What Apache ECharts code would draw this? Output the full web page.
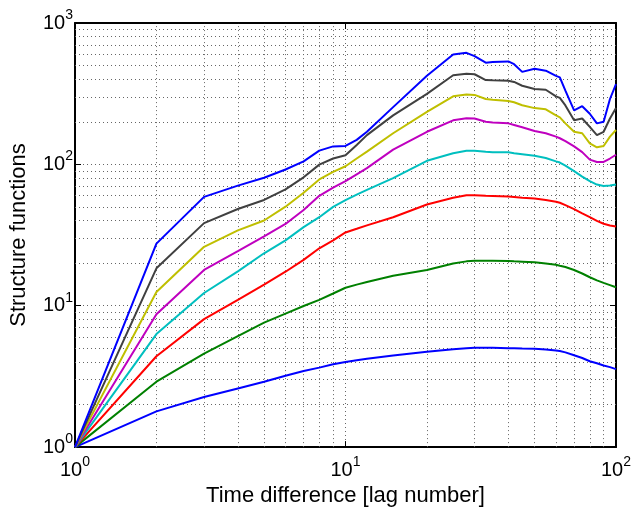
<!DOCTYPE html>
<html>
<head>
<meta charset="utf-8">
<script src="https://cdn.jsdelivr.net/npm/echarts@6/dist/echarts.min.js"></script>
<style>
  html, body { margin: 0; padding: 0; background: #fff; }
  #chart { width: 635px; height: 512px; }
</style>
</head>
<body>
<div id="chart"></div>
<script>
// lag numbers where the curves were read
const lags = [1, 2, 3, 4, 5, 6, 7, 8, 9, 10, 11, 12, 15, 20, 25, 28, 30, 33, 35, 40, 42, 45, 50, 55, 60, 62, 65, 70, 75, 80, 85, 90, 95, 100];

// structure functions, order 1 (bottom) to 8 (top)
const sf1 = [1, 1.79, 2.26, 2.6, 2.9, 3.2, 3.45, 3.65, 3.85, 4.0, 4.12, 4.22, 4.45, 4.72, 4.92, 5.0, 5.04, 5.05, 5.04, 5.0, 5.0, 4.98, 4.96, 4.9, 4.83, 4.78, 4.68, 4.46, 4.27, 4.05, 3.92, 3.78, 3.68, 3.56];
const sf2 = [1, 2.9, 4.58, 6.1, 7.6, 8.8, 9.95, 11.0, 12.2, 13.4, 14.1, 14.7, 16.3, 17.9, 19.9, 20.6, 20.8, 20.8, 20.8, 20.7, 20.6, 20.5, 20.3, 19.9, 19.5, 19.2, 18.8, 17.9, 16.9, 15.9, 15.1, 14.5, 14.0, 13.5];
const sf3 = [1, 4.39, 8.04, 11.0, 14.1, 17.4, 21.1, 25.5, 29, 33, 35, 37, 42.3, 52, 58, 60.5, 60.5, 60, 59.8, 59.2, 58.8, 58, 57.3, 56, 54.4, 53.5, 51.5, 48.3, 45, 42.3, 39.8, 38, 37, 36.4];
const sf4 = [1, 6.3, 12.3, 17.5, 23.5, 29, 36, 42.3, 50, 55.8, 61, 66, 80, 106, 120, 125, 125, 123, 122, 122, 120, 118, 115, 111, 105, 103, 98, 89.5, 82, 76.2, 72, 70.3, 71, 72];
const sf5 = [1, 8.71, 17.9, 24.3, 31, 37.9, 47.5, 59.9, 68.4, 76, 85, 94, 127, 170, 205, 212, 211, 200, 198, 195, 190, 183, 172, 166, 157, 153, 146, 134, 122, 108, 104, 104, 110, 117];
const sf6 = [1, 12.5, 26.1, 34.1, 40.1, 50.2, 63, 78.2, 88.5, 97, 110, 123, 166, 235, 303, 312, 310, 290, 286, 281, 275, 262, 250, 245, 222, 215, 195, 170, 166, 141, 132, 135, 157, 175];
const sf7 = [1, 18.4, 38.4, 48.3, 56, 66.6, 81, 99.6, 110, 116, 137, 161, 222, 315, 427, 438, 434, 395, 393, 390, 383, 360, 341, 337, 303, 295, 261, 205, 211, 184, 161, 170, 211, 250];
const sf8 = [1, 27.5, 58.9, 70.7, 80.4, 92, 105, 125, 134, 135, 149, 170, 254, 423, 598, 615, 583, 524, 529, 535, 511, 451, 475, 460, 423, 412, 332, 241, 258, 228, 195, 200, 290, 370];

const curves = [sf1, sf2, sf3, sf4, sf5, sf6, sf7, sf8];
const colors = ['#0000ff', '#008000', '#ff0000', '#00bfbf', '#bf00bf', '#bfbf00', '#404040', '#0000ff'];

const font = "'Liberation Sans', Arial, sans-serif";

// minor grid lines at 2..9 of every decade
var minorLines = [];
[1, 10].forEach(function (d) {
  for (var k = 2; k <= 9; k++) minorLines.push({xAxis: k * d});
});
[1, 10, 100].forEach(function (d) {
  for (var k = 2; k <= 9; k++) minorLines.push({yAxis: k * d});
});

function powLabel(v) {
  var e = Math.round(Math.log10(v));
  return '{b|10}{e|' + e + '}';
}
var labelRich = {
  b: {fontSize: 20, fontFamily: font, color: '#000'},
  e: {fontSize: 14, fontFamily: font, color: '#000', padding: [0, 0, 16, 0]}
};

var gridLine = {show: true, lineStyle: {color: '#666', width: 1, type: [1, 3]}};

var myChart = echarts.init(document.getElementById('chart'));
var option = {
  animation: false,
  backgroundColor: '#fff',
  grid: {left: 73, right: 19, top: 23, bottom: 59},
  xAxis: [
    {
      type: 'log', logBase: 10, min: 1, max: 100,
      name: 'Time difference [lag number]',
      nameLocation: 'middle', nameGap: 32,
      nameTextStyle: {fontSize: 22, fontFamily: font, color: '#000'},
      axisLine: {lineStyle: {color: '#000', width: 2}},
      axisTick: {inside: true, length: 6, lineStyle: {color: '#000'}},
      axisLabel: {formatter: powLabel, rich: labelRich, margin: 8},
      splitLine: gridLine
    },
    {
      type: 'log', logBase: 10, min: 1, max: 100, position: 'top',
      axisLine: {lineStyle: {color: '#000', width: 2}},
      axisTick: {inside: true, length: 6, lineStyle: {color: '#000'}},
      axisLabel: {show: false},
      splitLine: {show: false}
    }
  ],
  yAxis: [
    {
      type: 'log', logBase: 10, min: 1, max: 1000,
      name: 'Structure functions',
      nameLocation: 'middle', nameGap: 45,
      nameTextStyle: {fontSize: 22, fontFamily: font, color: '#000'},
      axisLine: {lineStyle: {color: '#000', width: 2}},
      axisTick: {inside: true, length: 6, lineStyle: {color: '#000'}},
      axisLabel: {formatter: powLabel, rich: labelRich, margin: 2},
      splitLine: gridLine
    },
    {
      type: 'log', logBase: 10, min: 1, max: 1000, position: 'right',
      axisLine: {lineStyle: {color: '#000', width: 2}},
      axisTick: {inside: true, length: 6, lineStyle: {color: '#000'}},
      axisLabel: {show: false},
      splitLine: {show: false}
    }
  ],
  series: [
    {
      // carrier for the dotted minor grid
      type: 'line', data: [[1, 1]], showSymbol: false, silent: true,
      lineStyle: {opacity: 0}, z: 1,
      markLine: {
        z: 1, silent: true, symbol: 'none', animation: false,
        label: {show: false},
        lineStyle: {color: '#666', width: 1, type: [1, 3]},
        data: minorLines
      }
    }
  ].concat(curves.map(function (c, i) {
    return {
      type: 'line',
      data: lags.map(function (x, j) { return [x, c[j]]; }),
      showSymbol: false,
      z: 3,
      lineStyle: {color: colors[i], width: 2},
      itemStyle: {color: colors[i]}
    };
  }))
};
option && myChart.setOption(option);
</script>
</body>
</html>
